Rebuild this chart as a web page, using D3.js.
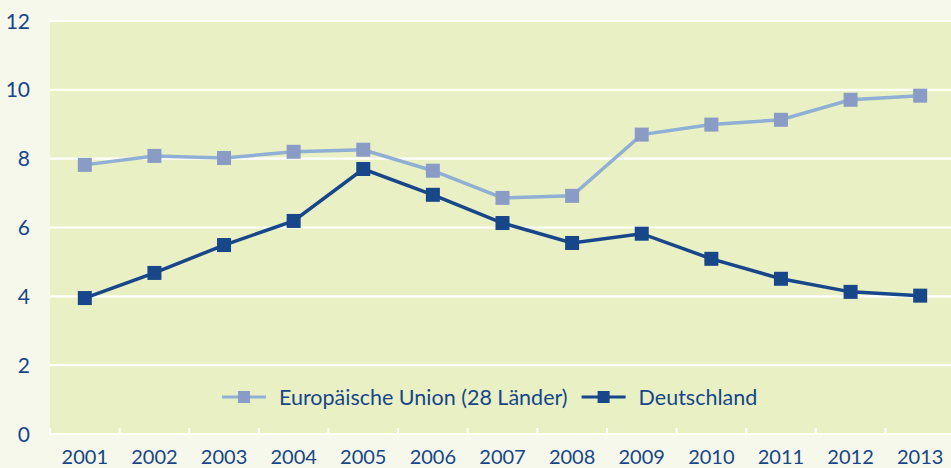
<!DOCTYPE html>
<html>
<head>
<meta charset="utf-8">
<script src="https://cdn.jsdelivr.net/npm/d3@7"></script>
<style>
  body { margin: 0; background: #f6f8eb; }
  svg { display: block; font-family: Lato, "Open Sans", sans-serif; }
</style>
</head>
<body>
<svg id="chart" width="951" height="468"></svg>
<script>
// daten
var jahre = ["2001","2002","2003","2004","2005","2006","2007","2008","2009","2010","2011","2012","2013"];
var eu28 = [7.82, 8.08, 8.02, 8.2, 8.26, 7.65, 6.86, 6.92, 8.7, 8.99, 9.13, 9.71, 9.83];
var deutschland = [3.95, 4.68, 5.49, 6.19, 7.7, 6.95, 6.13, 5.55, 5.82, 5.09, 4.51, 4.13, 4.02];
var yTicks = [0, 2, 4, 6, 8, 10, 12];
var serien = [
  { name: "Europäische Union (28 Länder)", werte: eu28, linie: "#8fb0d4", punkt: "#8a9cc5" },
  { name: "Deutschland", werte: deutschland, linie: "#17468a", punkt: "#17468a" }
];

var svg = d3.select("#chart");
var textFarbe = "#17468a";

var x = d3.scaleBand().domain(jahre).range([50, 955]);
var y = d3.scaleLinear().domain([0, 12]).range([434, 21]);

// hintergrund plot
svg.append("rect")
  .attr("x", x.range()[0]).attr("y", y(12))
  .attr("width", x.range()[1] - x.range()[0])
  .attr("height", y(0) - y(12))
  .attr("fill", "#e8f0c4");

// gitterlinien
svg.append("g").selectAll("line")
  .data(yTicks)
  .join("line")
  .attr("x1", x.range()[0]).attr("x2", x.range()[1])
  .attr("y1", d => y(d)).attr("y2", d => y(d))
  .attr("stroke", "#fff").attr("stroke-width", 2.2);

// x achse ticks (weiss, nach oben)
svg.append("g").selectAll("line")
  .data(jahre)
  .join("line")
  .attr("x1", d => x(d)).attr("x2", d => x(d))
  .attr("y1", y(0)).attr("y2", y(0) - 6)
  .attr("stroke", "#fff").attr("stroke-width", 2);

// y beschriftung
svg.append("g").selectAll("text")
  .data(yTicks)
  .join("text")
  .attr("x", 30).attr("y", d => y(d))
  .attr("dy", "0.36em")
  .attr("text-anchor", "end")
  .attr("font-size", 21)
  .attr("fill", textFarbe)
  .text(d => d);

// x beschriftung
svg.append("g").selectAll("text")
  .data(jahre)
  .join("text")
  .attr("x", d => x(d) + x.bandwidth() / 2)
  .attr("y", 463.5)
  .attr("text-anchor", "middle")
  .attr("font-size", 20)
  .attr("fill", textFarbe)
  .text(d => d);

var line = d3.line()
  .x((d, i) => x(jahre[i]) + x.bandwidth() / 2)
  .y(d => y(d));

serien.forEach(s => {
  svg.append("path")
    .datum(s.werte)
    .attr("d", line)
    .attr("fill", "none")
    .attr("stroke", s.linie)
    .attr("stroke-width", 3.5);

  svg.append("g").selectAll("rect")
    .data(s.werte)
    .join("rect")
    .attr("x", (d, i) => x(jahre[i]) + x.bandwidth() / 2 - 7)
    .attr("y", d => y(d) - 7)
    .attr("width", 14).attr("height", 14)
    .attr("fill", s.punkt);
});

// legende
var leg = svg.append("g").attr("transform", "translate(222,397)");
var lx = 0;
serien.forEach(s => {
  var g = leg.append("g").attr("transform", "translate(" + lx + ",0)");
  g.append("line")
    .attr("x1", 0).attr("x2", 44).attr("y1", 0).attr("y2", 0)
    .attr("stroke", s.linie).attr("stroke-width", 3);
  g.append("rect")
    .attr("x", 16).attr("y", -6).attr("width", 12).attr("height", 12)
    .attr("fill", s.punkt);
  var t = g.append("text")
    .attr("x", 57).attr("y", 0).attr("dy", "0.36em")
    .attr("font-size", 21.5)
    .attr("fill", textFarbe)
    .text(s.name);
  lx += 57 + t.node().getComputedTextLength() + 14;
});
</script>
</body>
</html>
